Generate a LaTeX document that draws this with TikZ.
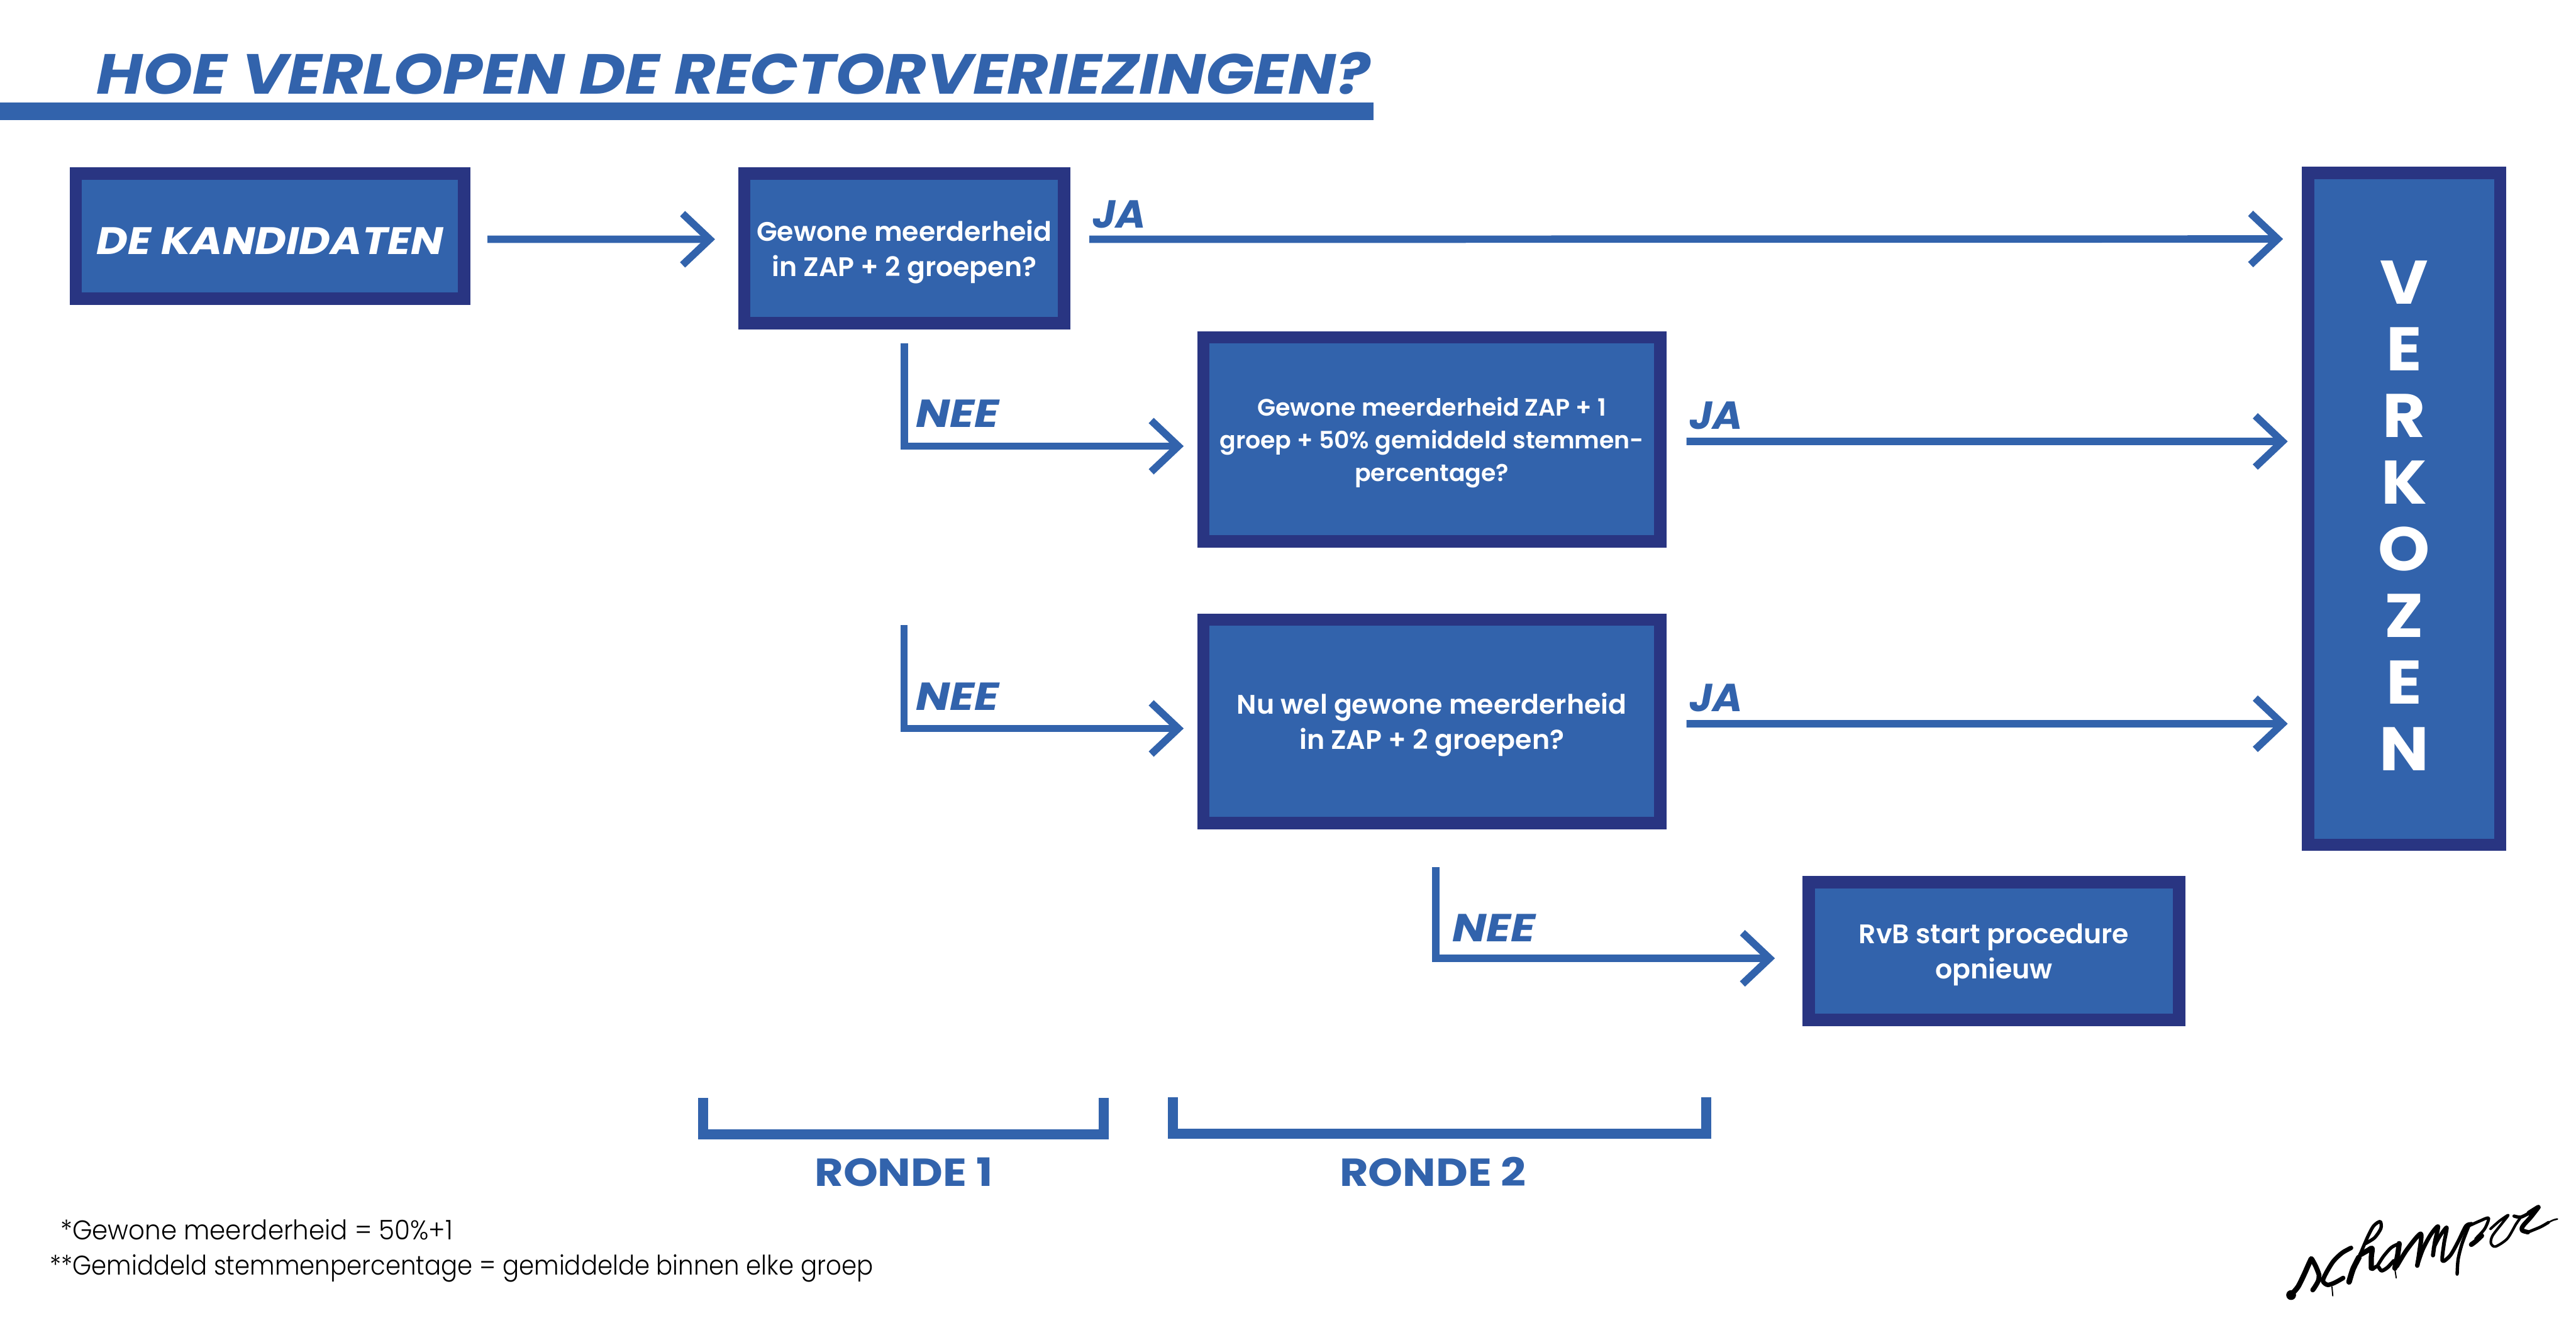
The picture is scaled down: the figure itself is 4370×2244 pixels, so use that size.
\documentclass[tikz,border=0pt]{standalone}
\usepackage{fontspec}
\usetikzlibrary{arrows.meta,calc}
\setmainfont{Poppins}
\newfontfamily\popsemi{Poppins SemiBold}
\newfontfamily\popt[FakeStretch=1.12]{Poppins}
\newfontfamily\popw[FakeStretch=1.125]{Poppins}
\newfontfamily\popn[FakeStretch=1.16]{Poppins}
\newfontfamily\popj[FakeStretch=1.04]{Poppins}
\newfontfamily\popv[FakeStretch=1.07]{Poppins}
\newfontfamily\noteA[FakeStretch=0.94]{Poppins Light}
\newfontfamily\noteB[FakeStretch=0.90]{Poppins Light}
\definecolor{blu}{HTML}{3263AC}
\definecolor{drk}{HTML}{293582}
\def\px{0.28346pt}
\def\inkpx{0.36pt}
\tikzset{
  x=0.28346pt,y=-0.28346pt,
  boxnode/.style n args={3}{draw=drk,fill=blu,line width=21*\px,text=white,align=center,inner sep=0pt,
    minimum width=#1*\px,minimum height=#2*\px,text depth=0pt,text height=#3*\px},
  boxfont/.style={font=\popsemi\fontsize{12.9}{17}\selectfont},
  lab/.style={text=blu,anchor=base,inner sep=0pt,font=\popn\bfseries\itshape\fontsize{18.8}{20}\selectfont},
  jalab/.style={text=blu,anchor=base,inner sep=0pt,font=\popj\bfseries\itshape\fontsize{18.8}{20}\selectfont},
  rondelab/.style={text=blu,anchor=base,inner sep=0pt,font=\popw\bfseries\fontsize{18.8}{20}\selectfont},
  note/.style={anchor=base west,inner sep=0pt},
  conn/.style={draw=blu,line width=12.5*\px,miter limit=10,-{Straight Barb[length=46*\px,width=87*\px]}},
  bracket/.style={draw=blu,line width=17*\px,miter limit=10},
  ink/.style={draw=black,line cap=round,line join=round},
}
\begin{document}
\begin{tikzpicture}
\useasboundingbox (0,0) rectangle (4370,2244);
% title
\fill[blu] (0,174) rectangle (2330,204);
\node[lab,anchor=base west,font=\popt\bfseries\itshape\fontsize{27.2}{30}\selectfont] (title) at (163,159) {HOE VERLOPEN DE RECTORVERIEZINGEN?};
% boxes
\node[boxnode={659}{212}{63},font=\popw\bfseries\itshape\fontsize{18.4}{20}\selectfont] (kand) at (458,400.5) {DE KANDIDATEN};
\node[boxnode={543}{254}{95},boxfont] (box1) at (1534,421.5) {Gewone meerderheid\\in ZAP + 2 groepen?};
\node[boxnode={775}{346}{143},boxfont,font=\popsemi\fontsize{11.45}{15.7}\selectfont] (box2) at (2429,745.5) {Gewone meerderheid ZAP + 1\\groep + 50\% gemiddeld stemmen-\\percentage?};
\node[boxnode={775}{345}{95},boxfont] (box3) at (2429,1224) {Nu wel gewone meerderheid\\in ZAP + 2 groepen?};
\node[boxnode={628}{234}{95},boxfont] (box4) at (3382.5,1613.5) {RvB start procedure\\opnieuw};
\node[boxnode={326}{1140}{887},font=\popv\bfseries\fontsize{29.6}{32.05}\selectfont] (verk) at (4078.5,863.5) {V\\E\\R\\K\\O\\Z\\E\\N};
% connectors
\draw[conn] ($(kand.east)+(29,5.5)$) -- ($(box1.west)+(-39,-15.5)$);
\draw[conn] ($(box1.east)+(32,-15.5)$) -- ($(verk.west)+(-32,-458)$);
\draw[conn] ($(box2.east)+(34,3.5)$) -- ($(verk.west)+(-24,-114.5)$);
\draw[conn] ($(box3.east)+(34,4)$) -- ($(verk.west)+(-24,364.5)$);
\coordinate (n2start) at (1533.5,1061);
\coordinate (n3start) at (2435.5,1471);
\draw[conn] ($(box1.south)+(0,24)$) |- ($(box2.west)+(-23,11.5)$);
\draw[conn] (n2start) |- ($(box3.west)+(-23,12)$);
\draw[conn] (n3start) |- ($(box4.west)+(-47,12.5)$);
% labels
\node[jalab] (ja1) at (1899,387) {JA};
\node[jalab] (ja2) at (2911,728) {JA};
\node[jalab] (ja3) at (2911,1207) {JA};
\node[lab] (nee1) at (1624,725) {NEE};
\node[lab] (nee2) at (1624,1205) {NEE};
\node[lab] (nee3) at (2534,1598) {NEE};
% brackets
\coordinate (b1a) at (1192.5,1863); \coordinate (b1b) at (1872.5,1863);
\coordinate (b2a) at (1989.5,1862); \coordinate (b2b) at (2894.5,1862);
\draw[bracket] (b1a) -- (1192.5,1924.5) -- (1872.5,1924.5) -- (b1b);
\draw[bracket] (b2a) -- (1989.5,1923.5) -- (2894.5,1923.5) -- (b2b);
\node[rondelab] (r1) at (1533,2013) {RONDE 1};
\node[rondelab] (r2) at (2431,2013) {RONDE 2};
% notes
\node[note,font=\noteA\fontsize{13}{15}\selectfont] (n1) at (102,2103) {*Gewone meerderheid = 50\%+1};
\node[note,font=\noteB\fontsize{13}{15}\selectfont] (n2) at (84,2163) {**Gemiddeld stemmenpercentage = gemiddelde binnen elke groep};
% logo, left part
\begin{scope}[shift={(3870,2060)},x=0.094487pt,y=-0.094487pt]
\fill (50,412) circle (25);
\draw[ink,line width=7*\inkpx] plot[smooth] coordinates {(55,405)(85,370)(115,310)(135,265)(152,228)};
\draw[ink,line width=6.5*\inkpx] plot[smooth] coordinates {(155,228)(175,265)(192,310)(188,340)(170,372)(160,386)};
\draw[ink,line width=6*\inkpx] plot[smooth] coordinates {(355,172)(310,197)(265,240)(228,300)(212,340)(235,360)(270,350)(315,325)};
\draw[ink,line width=1.6*\inkpx] plot[smooth] coordinates {(258,370)(262,416)};
\draw[ink,line width=7.5*\inkpx] plot[smooth] coordinates {(345,345)(365,280)(395,220)};
\draw[ink,line width=4.5*\inkpx] plot[smooth] coordinates {(395,220)(440,115)(470,60)(503,38)(507,72)(475,120)(428,150)};
\draw[ink,line width=7*\inkpx] plot[smooth] coordinates {(405,205)(440,185)(462,175)(458,220)(458,275)};
\draw[ink,line width=5*\inkpx] plot[smooth] coordinates {(465,280)(490,265)(510,288)(540,272)(572,238)};
\draw[ink,line width=4.5*\inkpx] plot[smooth] coordinates {(600,150)(560,170)(520,215)(490,262)};
\draw[ink,line width=7*\inkpx] plot[smooth] coordinates {(600,150)(592,210)(578,275)};
\draw[ink,line width=1.6*\inkpx] plot[smooth] coordinates {(578,280)(585,325)};
\end{scope}
% logo, right part
\begin{scope}[shift={(4060,2030)},x=0.094487pt,y=-0.094487pt]
\draw[ink,line width=6*\inkpx] plot[smooth] coordinates {(18,355)(70,270)(140,190)(132,290)(122,352)};
\draw[ink,line width=5.5*\inkpx] plot[smooth] coordinates {(122,350)(150,270)(190,195)(228,152)(212,230)(202,300)};
\draw[ink,line width=5*\inkpx] plot[smooth] coordinates {(205,262)(235,205)(272,158)(258,240)(250,328)(290,300)(330,230)(370,150)(400,140)};
\draw[ink,line width=4.5*\inkpx] plot[smooth] coordinates {(325,395)(330,320)(350,240)(385,148)};
\draw[ink,line width=4*\inkpx] plot[smooth] coordinates {(385,150)(440,125)(485,110)(465,165)(420,215)};
\draw[ink,line width=6.5*\inkpx] plot[smooth] coordinates {(397,245)(420,228)(450,200)};
\draw[ink,line width=3.5*\inkpx] plot[smooth] coordinates {(495,165)(540,125)(585,95)(555,135)(505,200)(497,238)(520,255)(580,215)(625,140)(650,105)};
\draw[ink,line width=4.5*\inkpx] plot[smooth] coordinates {(615,100)(650,105)(700,80)};
\draw[ink,line width=6.5*\inkpx] plot[smooth] coordinates {(690,85)(738,55)};
\draw[ink,line width=6*\inkpx] plot[smooth] coordinates {(735,60)(700,105)(660,150)(655,172)(685,182)};
\draw[ink,line width=4*\inkpx] plot[smooth] coordinates {(685,182)(750,155)(790,132)};
\draw[ink,line width=2.2*\inkpx] plot[smooth] coordinates {(790,132)(815,120)(835,115)};
\end{scope}
\end{tikzpicture}
\end{document}
